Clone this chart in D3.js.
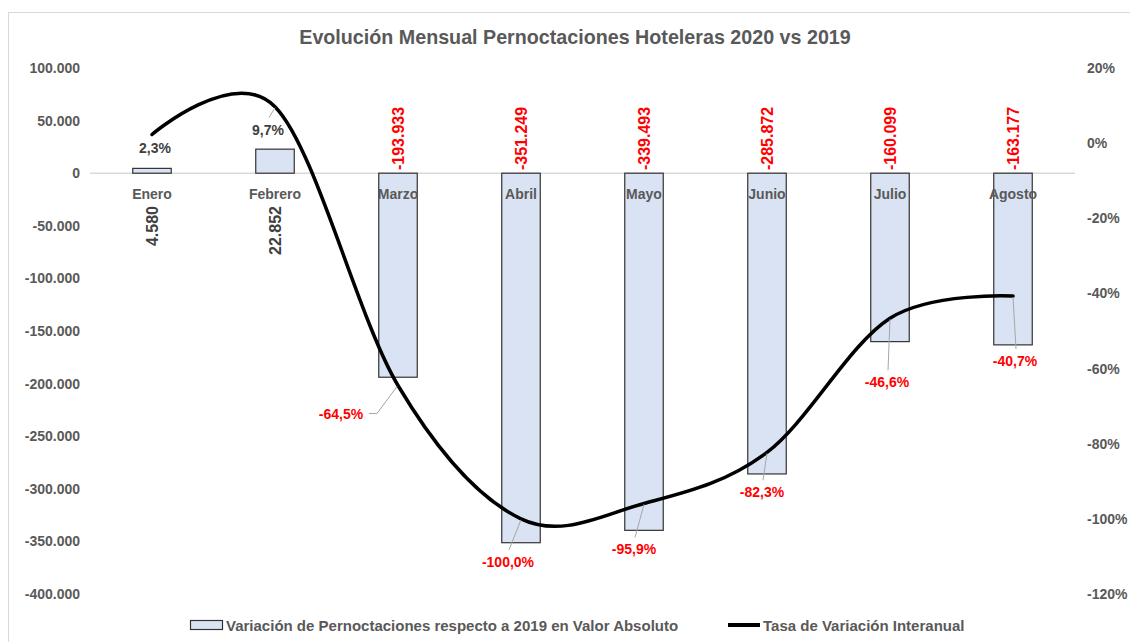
<!DOCTYPE html>
<html>
<head>
<meta charset="utf-8">
<script src="https://cdn.jsdelivr.net/npm/d3@7"></script>
<style>
  body { margin: 0; background: #fff; }
  text { font-family: "Liberation Sans", Arial, sans-serif; }
</style>
</head>
<body>
<script>
// data
var months = ["Enero", "Febrero", "Marzo", "Abril", "Mayo", "Junio", "Julio", "Agosto"];
var absVar = [4580, 22852, -193933, -351249, -339493, -285872, -160099, -163177];
var pctVar = [2.3, 9.7, -64.5, -100.0, -95.9, -82.3, -46.6, -40.7];
var leftTicks = [100000, 50000, 0, -50000, -100000, -150000, -200000, -250000, -300000, -350000, -400000];
var rightTicks = [20, 0, -20, -40, -60, -80, -100, -120];

// label placement for the percentage labels (offset from point)
var pctLabelOffset = [[3, 13], [-7, 23], [-57, 28], [-13, 43], [-10, 46], [-5, 40], [-3, 64], [2, 65]];

var W = 1130, H = 642;
var es = d3.formatLocale({ decimal: ",", thousands: ".", grouping: [3], currency: ["", "€"], minus: "-" });
var fmtInt = es.format(",");
var fmtPct = es.format(".1f");

var svg = d3.select("body").append("svg")
    .attr("width", W)
    .attr("height", H);

// chart border
svg.append("rect")
    .attr("x", 8.5).attr("y", 12.5)
    .attr("width", 1150).attr("height", 680)
    .attr("fill", "none").attr("stroke", "#d9d9d9");

// scales
var x = d3.scaleBand().domain(months).range([90.5, 1074.5]).paddingInner(0.687).paddingOuter(0.3435);
var yL = d3.scaleLinear().domain([100000, -400000]).range([68, 594]);
var yR = d3.scaleLinear().domain([20, -120]).range([68, 594]);
var cx = function (m) { return x(m) + x.bandwidth() / 2; };

// title
svg.append("text")
    .attr("x", 575).attr("y", 44)
    .attr("text-anchor", "middle")
    .attr("font-size", "19.7px").attr("font-weight", "bold")
    .attr("fill", "#595959")
    .text("Evolución Mensual Pernoctaciones Hoteleras 2020 vs 2019");

// axes
var axL = svg.append("g").attr("transform", "translate(90,0)")
    .call(d3.axisLeft(yL).tickValues(leftTicks).tickSize(0).tickPadding(10).tickFormat(fmtInt));
var axR = svg.append("g").attr("transform", "translate(1075,0)")
    .call(d3.axisRight(yR).tickValues(rightTicks).tickSize(0).tickPadding(12).tickFormat(function (d) { return d + "%"; }));
[axL, axR].forEach(function (a) {
    a.select(".domain").remove();
    a.selectAll("text")
        .attr("font-family", "Liberation Sans, Arial, sans-serif")
        .attr("font-size", "14px").attr("font-weight", "bold")
        .attr("fill", "#595959");
});

// zero line
svg.append("line")
    .attr("x1", 90).attr("x2", 1075)
    .attr("y1", yL(0)).attr("y2", yL(0))
    .attr("stroke", "#d9d9d9").attr("stroke-width", 1.5);

// bars
var data = months.map(function (m, i) { return { m: m, v: absVar[i], p: pctVar[i], off: pctLabelOffset[i] }; });

svg.selectAll("rect.bar").data(data).enter().append("rect")
    .attr("class", "bar")
    .attr("x", function (d) { return x(d.m); })
    .attr("y", function (d) { return Math.min(yL(d.v), yL(0)); })
    .attr("width", x.bandwidth())
    .attr("height", function (d) { return Math.abs(yL(d.v) - yL(0)); })
    .attr("fill", "#dae3f3")
    .attr("stroke", "#333").attr("stroke-width", 1.2);

// category labels
svg.selectAll("text.cat").data(data).enter().append("text")
    .attr("class", "cat")
    .attr("x", function (d) { return cx(d.m); })
    .attr("y", 199)
    .attr("text-anchor", "middle")
    .attr("font-family", "Lato, sans-serif")
    .attr("font-size", "14px").attr("font-weight", "bold")
    .attr("fill", "#595959")
    .text(function (d) { return d.m; });

// bar value labels (rotated)
svg.selectAll("text.val").data(data).enter().append("text")
    .attr("class", "val")
    .attr("transform", function (d) {
        return "translate(" + cx(d.m) + "," + (d.v >= 0 ? 206 : 170) + ") rotate(-90)";
    })
    .attr("dy", "0.36em")
    .attr("text-anchor", function (d) { return d.v >= 0 ? "end" : "start"; })
    .attr("font-size", "16px").attr("font-weight", "bold")
    .attr("fill", function (d) { return d.v >= 0 ? "#404040" : "#ff0000"; })
    .text(function (d) { return fmtInt(d.v); });

// line
var line = d3.line()
    .x(function (d) { return cx(d.m); })
    .y(function (d) { return yR(d.p); })
    .curve(d3.curveCardinal.tension(0));

svg.append("path").datum(data)
    .attr("d", line)
    .attr("fill", "none")
    .attr("stroke", "#000").attr("stroke-width", 3.5)
    .attr("stroke-linecap", "round");

// leader lines for pct labels
data.forEach(function (d, i) {
    if (i === 0) return;
    var px = cx(d.m), py = yR(d.p);
    var lx = px + d.off[0], ly = py + d.off[1];
    var pts;
    if (i === 2) {
        pts = [[px - 1, py + 1], [lx + 36, ly], [lx + 28, ly]];
    } else {
        pts = [[px, py + 1], [lx + 1, ly - 12]];
    }
    svg.append("path")
        .attr("d", d3.line()(pts))
        .attr("fill", "none").attr("stroke", "#a6a6a6").attr("stroke-width", 1);
});

// pct labels
svg.selectAll("text.pct").data(data).enter().append("text")
    .attr("class", "pct")
    .attr("x", function (d) { return cx(d.m) + d.off[0]; })
    .attr("y", function (d) { return yR(d.p) + d.off[1]; })
    .attr("dy", "0.36em")
    .attr("text-anchor", "middle")
    .attr("font-size", "14px").attr("font-weight", "bold")
    .attr("fill", function (d) { return d.p >= 0 ? "#404040" : "#ff0000"; })
    .text(function (d) { return fmtPct(d.p) + "%"; });

// legend
var lg = svg.append("g");
lg.append("rect")
    .attr("x", 190.5).attr("y", 620.5).attr("width", 32).attr("height", 9)
    .attr("fill", "#dae3f3").attr("stroke", "#333").attr("stroke-width", 1.2);
lg.append("text")
    .attr("x", 226).attr("y", 630.5)
    .attr("font-size", "15px").attr("font-weight", "bold").attr("fill", "#595959")
    .text("Variación de Pernoctaciones respecto a 2019 en Valor Absoluto");
lg.append("line")
    .attr("x1", 728).attr("x2", 760).attr("y1", 625).attr("y2", 625)
    .attr("stroke", "#000").attr("stroke-width", 4);
lg.append("text")
    .attr("x", 763).attr("y", 630.5)
    .attr("font-size", "15px").attr("font-weight", "bold").attr("fill", "#595959")
    .text("Tasa de Variación Interanual");
</script>
</body>
</html>
